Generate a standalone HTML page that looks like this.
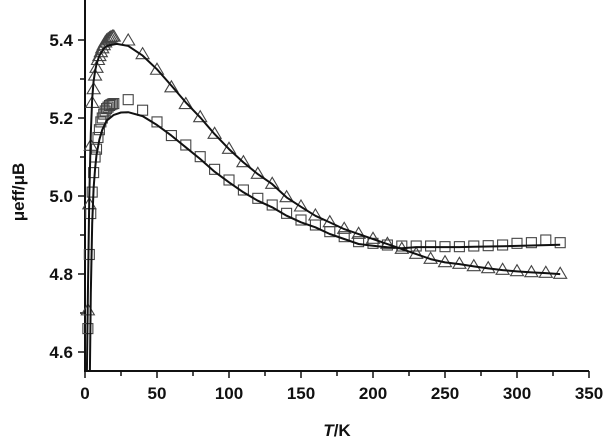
<!DOCTYPE html>
<html><head><meta charset="utf-8"><style>
html,body{margin:0;padding:0;background:#fff;width:605px;height:438px;overflow:hidden}
svg{display:block}
text{font-family:"Liberation Sans",Arial,sans-serif;font-weight:bold;fill:#111}
</style></head><body>
<svg id="s" width="605" height="438" xmlns="http://www.w3.org/2000/svg">
<g id="ax" stroke="#111" stroke-width="2" fill="none"></g>
<g id="lab" font-size="17"></g>
<g id="dat"></g>
<text x="337" y="436" font-size="17" text-anchor="middle"><tspan font-style="italic">T</tspan>/K</text>
<text transform="translate(24,192) rotate(-90)" font-size="17" text-anchor="middle">μeff/μB</text>
</svg>
<script>
const X=t=>85+t*1.44, Y=v=>40+(5.4-v)*390;
const ns="http://www.w3.org/2000/svg";
function el(p,n,a){const e=document.createElementNS(ns,n);for(const k in a)e.setAttribute(k,a[k]);p.appendChild(e);return e;}
const ax=document.getElementById('ax'),lab=document.getElementById('lab'),dat=document.getElementById('dat');
const yb=371;
el(ax,'path',{d:`M85,0 V${yb} H${X(350)}`});
for(let t=0;t<=350;t+=25){const L=t%50==0?7:5;el(ax,'line',{x1:X(t),y1:yb,x2:X(t),y2:yb+L,'stroke-width':1.5});
 if(t%50==0){const tx=el(lab,'text',{x:X(t),y:yb+28,'text-anchor':'middle'});tx.textContent=t;}}
for(let v=4.6;v<=5.45;v+=0.1){const maj=Math.round(v*10)%2==0;const y=Y(v);el(ax,'line',{x1:85,y1:y,x2:maj?78:80,y2:y,'stroke-width':1.5});
 if(maj){const tx=el(lab,'text',{x:73,y:y+6,'text-anchor':'end'});tx.textContent=v.toFixed(1);}}
let tri=[[2,4.708],[3,4.98],[4,5.13],[5,5.24],[6,5.275],[7,5.31],[8,5.33],[9,5.35],[10,5.36],[11,5.37],[12,5.38],[13,5.388],[14,5.395],[15,5.4],[16,5.403],[17,5.406],[18,5.408],[19,5.41],[20,5.41],[30,5.40],[40,5.365],[50,5.325],[60,5.28],[70,5.237]];
const tp=[50,100,145,185,220,250,290,318,345,365,385,400,415,430,445,460,475,485,490,497,503,508,512,515,517,520];
tp.forEach((p,i)=>tri.push([80+10*i,5.4-(60+p/3)/390]));
let sq=[[2,4.66],[3,4.85],[4,4.955],[5,5.01],[6,5.06],[7,5.10],[8,5.12],[9,5.15],[10,5.17],[11,5.19],[12,5.2],[13,5.21],[14,5.218],[15,5.224],[16,5.228],[17,5.232],[18,5.234],[19,5.236],[20,5.237],[30,5.247],[40,5.22],[50,5.19],[60,5.155]];
const sp=[135,170,208,240,270,295,315,340,360,375,395,410,425,430,435,438,438,438,440,440,438,437,435,430,428,420,428];
sp.forEach((p,i)=>sq.push([70+10*i,5.4-(60+p/3)/390]));
let ft=[[1.3,4.55],[2,4.75],[3,5.0],[4,5.16],[5,5.25],[6,5.295],[7,5.32],[8,5.338],[10,5.36],[13,5.378],[16,5.386],[22,5.39],[30,5.385],[40,5.36],[50,5.325],[60,5.283],[70,5.24]];
tri.filter(p=>p[0]>=80).forEach(p=>ft.push([p[0],p[1]-0.002]));
let fs=[[3.4,4.55],[4,4.75],[5,4.93],[6,5.02],[7,5.07],[8,5.105],[10,5.145],[12,5.17],[15,5.193],[20,5.208],[25,5.214],[30,5.215],[40,5.205],[50,5.182],[60,5.155]];
sq.filter(p=>p[0]>=70).forEach((p,i)=>{let v=p[1]-0.006; if(p[0]>=300) v=4.872+(p[0]-300)*0.0001; if(p[0]>=230&&p[0]<300) v=4.869+Math.max(0,p[0]-260)*0.00007; fs.push([p[0],v]);});
function line(pts){let d=pts.map((p,i)=>(i?'L':'M')+X(p[0]).toFixed(1)+','+Y(p[1]).toFixed(1)).join('');el(dat,'path',{d,fill:'none',stroke:'#111','stroke-width':2,'stroke-linejoin':'round'});}
sq.forEach(p=>{const x=X(p[0]),y=Y(p[1]);el(dat,'rect',{x:x-5,y:y-5,width:10,height:10,fill:'none',stroke:'#444','stroke-width':1.1});});
tri.forEach(p=>{const x=X(p[0]),y=Y(p[1]);el(dat,'path',{d:`M${x},${y-6}L${x+6.5},${y+5}L${x-6.5},${y+5}Z`,fill:'none',stroke:'#444','stroke-width':1.1});});
line(ft);line(fs);
</script>
</body></html>
